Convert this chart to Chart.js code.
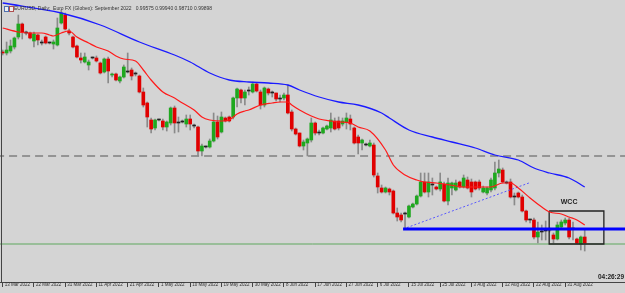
<!DOCTYPE html>
<html>
<head>
<meta charset="utf-8">
<script src="https://cdn.jsdelivr.net/npm/chart.js@4.4.1/dist/chart.umd.min.js"></script>
<style>
  html, body { margin: 0; padding: 0; background: #d4d4d4; }
  canvas { display: block; }
</style>
</head>
<body>
<canvas id="chart" width="625" height="293"></canvas>
<script>
// -------- data (EURUSD daily candles) -------- //

const opens = [1.0885,1.0880,1.0890,1.0910,1.0960,1.1025,1.0980,1.0980,1.0940,1.0970,
  1.0930,1.0960,1.0930,1.0925,1.0920,1.1030,1.1070,1.0990,1.0960,1.0915,
  1.0855,1.0835,1.0820,1.0855,1.0855,1.0830,1.0785,1.0850,1.0770,1.0775,
  1.0740,1.0760,1.0785,1.0795,1.0775,1.0765,1.0685,1.0630,1.0545,1.0505,
  1.0545,1.0540,1.0510,1.0530,1.0605,1.0530,1.0535,1.0525,1.0550,1.0515,
  1.0510,1.0390,1.0410,1.0410,1.0440,1.0535,1.0485,1.0555,1.0560,1.0560,
  1.0655,1.0695,1.0655,1.0690,1.0685,1.0725,1.0685,1.0620,1.0700,1.0680,
  1.0680,1.0650,1.0655,1.0670,1.0585,1.0500,1.0480,1.0415,1.0430,1.0445,
  1.0530,1.0480,1.0480,1.0500,1.0505,1.0540,1.0540,1.0525,1.0535,1.0550,
  1.0505,1.0460,1.0430,1.0420,1.0415,1.0420,1.0265,1.0205,1.0185,1.0200,
  1.0190,1.0080,1.0070,1.0075,1.0060,1.0110,1.0125,1.0165,1.0235,1.0185,
  1.0220,1.0210,1.0200,1.0225,1.0140,1.0205,1.0195,1.0235,1.0210,1.0245,
  1.0235,1.0235,1.0235,1.0185,1.0180,1.0195,1.0205,1.0280,1.0295,1.0230,
  1.0235,1.0160,1.0180,1.0160,1.0090,1.0045,1.0045,0.9960,0.9985,0.9990,
  0.9995,0.9970,0.9950,1.0010,1.0030,1.0045,1.0000,0.9950,0.9925,0.9960];

const highs = [1.0895,1.0935,1.0945,1.0960,1.1070,1.1030,1.0990,1.0985,1.0985,1.0975,
  1.0945,1.0965,1.0935,1.0945,1.1055,1.1095,1.1080,1.1000,1.0965,1.0920,
  1.0880,1.0880,1.0845,1.0860,1.0865,1.0835,1.0855,1.0860,1.0780,1.0780,
  1.0765,1.0820,1.0880,1.0805,1.0785,1.0770,1.0705,1.0635,1.0555,1.0550,
  1.0550,1.0550,1.0540,1.0610,1.0615,1.0560,1.0545,1.0570,1.0570,1.0525,
  1.0515,1.0425,1.0415,1.0450,1.0580,1.0565,1.0585,1.0560,1.0565,1.0660,
  1.0705,1.0700,1.0695,1.0710,1.0735,1.0730,1.0695,1.0710,1.0705,1.0690,
  1.0680,1.0670,1.0680,1.0720,1.0595,1.0505,1.0480,1.0445,1.0455,1.0555,
  1.0535,1.0495,1.0510,1.0520,1.0580,1.0555,1.0560,1.0555,1.0580,1.0570,
  1.0510,1.0470,1.0450,1.0430,1.0445,1.0430,1.0280,1.0220,1.0210,1.0205,
  1.0195,1.0105,1.0080,1.0085,1.0120,1.0130,1.0170,1.0280,1.0280,1.0280,
  1.0255,1.0215,1.0280,1.0235,1.0255,1.0235,1.0245,1.0240,1.0270,1.0260,
  1.0250,1.0240,1.0245,1.0215,1.0210,1.0255,1.0335,1.0345,1.0305,1.0240,
  1.0250,1.0180,1.0185,1.0170,1.0095,1.0050,1.0055,1.0035,1.0020,1.0040,
  1.0005,0.9980,1.0035,1.0045,1.0055,1.0055,1.0035,0.9955,0.9965,1.0000];

const lows = [1.0870,1.0870,1.0880,1.0900,1.0950,1.0950,1.0970,1.0950,1.0910,1.0920,
  1.0920,1.0925,1.0925,1.0900,1.0915,1.1025,1.0995,1.0970,1.0905,1.0855,
  1.0830,1.0830,1.0795,1.0850,1.0835,1.0775,1.0780,1.0730,1.0760,1.0740,
  1.0730,1.0755,1.0780,1.0745,1.0765,1.0680,1.0610,1.0510,1.0480,1.0495,
  1.0540,1.0495,1.0490,1.0520,1.0480,1.0485,1.0530,1.0510,1.0495,1.0505,
  1.0365,1.0365,1.0405,1.0405,1.0435,1.0450,1.0480,1.0535,1.0535,1.0550,
  1.0610,1.0630,1.0620,1.0670,1.0680,1.0685,1.0600,1.0610,1.0670,1.0660,
  1.0640,1.0635,1.0645,1.0575,1.0490,1.0470,1.0410,1.0395,1.0365,1.0435,
  1.0470,1.0470,1.0475,1.0495,1.0485,1.0495,1.0495,1.0515,1.0500,1.0495,
  1.0425,1.0375,1.0395,1.0415,1.0410,1.0260,1.0180,1.0180,1.0180,1.0170,
  1.0075,1.0040,1.0035,1.0000,1.0055,1.0105,1.0120,1.0160,1.0180,1.0160,
  1.0170,1.0195,1.0190,1.0135,1.0120,1.0170,1.0190,1.0205,1.0205,1.0200,
  1.0160,1.0195,1.0195,1.0180,1.0170,1.0185,1.0195,1.0260,1.0230,1.0225,
  1.0155,1.0120,1.0155,1.0085,1.0035,1.0030,0.9950,0.9930,0.9945,0.9945,
  0.9985,0.9930,0.9945,1.0005,1.0020,0.9950,0.9945,0.9925,0.9895,0.9890];

const closes = [1.0880,1.0895,1.0915,1.0955,1.1025,1.0985,1.0980,1.0955,1.0975,1.0945,
  1.0930,1.0930,1.0930,1.0935,1.1005,1.1080,1.1000,1.0980,1.0910,1.0860,
  1.0845,1.0860,1.0835,1.0855,1.0840,1.0780,1.0850,1.0790,1.0775,1.0745,
  1.0760,1.0810,1.0785,1.0765,1.0775,1.0685,1.0620,1.0560,1.0500,1.0545,
  1.0545,1.0510,1.0535,1.0605,1.0530,1.0530,1.0535,1.0550,1.0525,1.0515,
  1.0390,1.0415,1.0410,1.0440,1.0535,1.0460,1.0560,1.0540,1.0540,1.0655,
  1.0700,1.0655,1.0685,1.0690,1.0725,1.0690,1.0620,1.0705,1.0680,1.0680,
  1.0650,1.0650,1.0670,1.0580,1.0500,1.0475,1.0415,1.0435,1.0450,1.0530,
  1.0480,1.0480,1.0505,1.0515,1.0545,1.0500,1.0505,1.0540,1.0555,1.0525,
  1.0430,1.0430,1.0445,1.0420,1.0430,1.0270,1.0210,1.0185,1.0205,1.0185,
  1.0080,1.0060,1.0045,1.0075,1.0115,1.0125,1.0165,1.0235,1.0185,1.0235,
  1.0220,1.0200,1.0235,1.0140,1.0230,1.0230,1.0230,1.0210,1.0255,1.0205,
  1.0185,1.0200,1.0205,1.0205,1.0205,1.0245,1.0280,1.0300,1.0235,1.0230,
  1.0160,1.0160,1.0160,1.0090,1.0045,1.0045,0.9960,0.9985,0.9985,0.9990,
  0.9995,0.9950,1.0020,1.0035,1.0045,0.9960,1.0000,0.9930,0.9960,0.9930];

// moving averages, sampled along the drawn lines (bar index / value)
const fastBars = [0,4,7,10,12,13,15,17,19,22,24,27,29,31,34,36,38,41,44,46,49,51,53,56,58,60,62,63,66,69,
  71,73,74,76,79,81,84,86,89,91,94,98,100,103,106,108,111,113,116,118,121,125,128,130,132,135,138,140,143,145,147,149];
const fastValues = [1.1005,1.0985,1.0980,1.0980,1.0970,1.0965,1.0980,1.0990,1.0960,1.0930,1.0910,1.0890,1.0865,1.0850,
  1.0840,1.0795,1.0745,1.0685,1.0655,1.0630,1.0595,1.0560,1.0545,1.0540,1.0545,1.0575,1.0590,1.0595,1.0620,1.0630,
  1.0635,1.0635,1.0620,1.0595,1.0565,1.0550,1.0540,1.0535,1.0530,1.0510,1.0490,1.0395,1.0320,1.0270,1.0245,1.0235,
  1.0230,1.0225,1.0215,1.0210,1.0210,1.0210,1.0230,1.0230,1.0205,1.0155,1.0110,1.0085,1.0075,1.0060,1.0045,1.0020];

const slowBars = [0,15,25,35,44,48,53,58,63,68,73,76,81,86,91,97,99,104,110,115,121,126,132,136,140,145,149];
const slowValues = [1.1130,1.1080,1.1020,1.0935,1.0870,1.0835,1.0780,1.0745,1.0735,1.0730,1.0720,1.0695,1.0660,
  1.0635,1.0620,1.0580,1.0555,1.0495,1.0460,1.0435,1.0405,1.0370,1.0345,1.0305,1.0280,1.0255,1.0210];

// x axis labels, one every 8 bars
const tickLabels = ['13 Mar 2022','22 Mar 2022','31 Mar 2022','11 Apr 2022','21 Apr 2022','1 May 2022',
  '10 May 2022','19 May 2022','30 May 2022','8 Jun 2022','17 Jun 2022','27 Jun 2022','6 Jul 2022',
  '15 Jul 2022','25 Jul 2022','3 Aug 2022','12 Aug 2022','22 Aug 2022','31 Aug 2022'];
const tickBars = [0,8,16,24,32,40,48,56,64,72,80,88,96,104,112,120,128,136,144];

// drawn objects
const dashedLevel = 1.0365;
const greenLevel = 0.9925;
const supportLevel = 1.0000;
const supportStart = 102.5;
const trendFrom = [102.5, 1.0000];
const trendTo = [134.7, 1.0230];
const boxBars = [139.9, 153.9];
const boxPrices = [1.0090, 0.9925];
const wccPos = [145, 1.0135];

const header = 'EURUSD, Daily:  Euro FX (Globex): September 2022   0.99575 0.99940 0.98710 0.99898';
const clockText = '04:26:29';

// -------- chart -------- //

const xMin = -0.69;
const xMax = 159.31;

const wickData = lows.map((l, i) => ({ x: i, y: [l, highs[i]] }));
const bodyData = opens.map((o, i) => ({ x: i, y: [o, closes[i]] }));
const bodyColors = opens.map((o, i) => closes[i] > o ? '#1fa81f' : (closes[i] < o ? '#e00000' : '#222222'));

const hLine = (y, x0) => [{ x: x0, y: y }, { x: xMax + 1, y: y }];

const mtPlugin = {
  id: 'mt',
  beforeDraw(chart) {
    const c = chart.ctx;
    c.save();
    c.fillStyle = '#d4d4d4';
    c.fillRect(0, 0, chart.width, chart.height);
    c.restore();
  },
  afterDraw(chart) {
    const c = chart.ctx;
    const a = chart.chartArea;
    const xs = chart.scales.x, ys = chart.scales.y;
    c.save();
    // left frame line
    c.strokeStyle = '#444';
    c.lineWidth = 1;
    c.beginPath();
    c.moveTo(1.5, 0);
    c.lineTo(1.5, a.bottom);
    c.stroke();
    // header icons + text
    c.fillStyle = '#f0f0f0';
    c.strokeStyle = '#5070b0';
    c.fillRect(4, 6, 4, 5);
    c.strokeRect(4.5, 6.5, 4, 5);
    c.strokeStyle = '#b05050';
    c.fillRect(9, 6, 4, 5);
    c.strokeRect(9.5, 6.5, 4, 5);
    c.fillStyle = '#333';
    c.font = '5px "Liberation Sans", Arial, sans-serif';
    c.textBaseline = 'middle';
    c.textAlign = 'left';
    c.fillText(header, 14, 9, 198);
    // box label
    c.fillStyle = '#222';
    c.font = 'bold 7px "Liberation Sans", Arial, sans-serif';
    c.textAlign = 'center';
    c.fillText('WCC', xs.getPixelForValue(wccPos[0]), ys.getPixelForValue(wccPos[1]));
    // clock
    c.font = 'bold 6.5px "Liberation Sans", Arial, sans-serif';
    c.textAlign = 'right';
    c.fillText(clockText, a.right - 1, a.bottom - 5);
    c.restore();
  }
};

new Chart(document.getElementById('chart'), {
  data: {
    datasets: [
      {
        type: 'line', data: fastBars.map((b, i) => ({ x: b, y: fastValues[i] })),
        borderColor: '#ff1a1a', borderWidth: 1.2, pointRadius: 0, cubicInterpolationMode: 'monotone', order: 1
      },
      {
        type: 'line', data: slowBars.map((b, i) => ({ x: b, y: slowValues[i] })),
        borderColor: '#1a1aff', borderWidth: 1.3, pointRadius: 0, cubicInterpolationMode: 'monotone', order: 1
      },
      {
        type: 'line', data: hLine(dashedLevel, xMin - 1),
        borderColor: '#555', borderWidth: 1, borderDash: [8, 5], pointRadius: 0, order: 4
      },
      {
        type: 'line', data: hLine(greenLevel, xMin - 1),
        borderColor: '#5ea85e', borderWidth: 1, pointRadius: 0, order: 4
      },
      {
        type: 'line', data: hLine(supportLevel, supportStart),
        borderColor: '#0000ff', borderWidth: 3, pointRadius: 0, order: 0
      },
      {
        type: 'line', data: [{ x: trendFrom[0], y: trendFrom[1] }, { x: trendTo[0], y: trendTo[1] }],
        borderColor: '#5a5aff', borderWidth: 1, borderDash: [2, 2], pointRadius: 0, order: 1
      },
      {
        type: 'line',
        data: [
          { x: boxBars[0], y: boxPrices[0] }, { x: boxBars[1], y: boxPrices[0] },
          { x: boxBars[1], y: boxPrices[1] }, { x: boxBars[0], y: boxPrices[1] },
          { x: boxBars[0], y: boxPrices[0] }
        ],
        borderColor: '#222', borderWidth: 1.3, pointRadius: 0, order: 1
      },
      {
        type: 'bar', data: wickData, backgroundColor: '#8a8a8a',
        barThickness: 1, grouped: false, order: 3
      },
      {
        type: 'bar', data: bodyData, backgroundColor: bodyColors,
        barThickness: 3, minBarLength: 1, grouped: false, order: 2
      }
    ]
  },
  options: {
    responsive: false,
    animation: false,
    devicePixelRatio: 1,
    layout: { padding: 0, autoPadding: false },
    plugins: { legend: { display: false }, tooltip: { enabled: false } },
    scales: {
      x: {
        type: 'linear', min: xMin, max: xMax, offset: false,
        afterBuildTicks: s => { s.ticks = tickBars.map(v => ({ value: v })); },
        afterFit: s => { s.height = 11; s.paddingLeft = 0; s.paddingRight = 0; },
        ticks: {
          callback: (v, i) => tickLabels[i],
          align: 'start', labelOffset: 2, maxRotation: 0, autoSkip: false,
          padding: -5, color: '#333',
          font: { size: 4.5, family: '"Liberation Sans", Arial, sans-serif' }
        },
        grid: { offset: false, drawOnChartArea: false, drawTicks: true, tickLength: 5, tickColor: '#444' },
        border: { display: true, color: '#444' }
      },
      y: {
        display: false, min: 0.9735, max: 1.1145
      }
    }
  },
  plugins: [mtPlugin]
});
</script>
</body>
</html>
